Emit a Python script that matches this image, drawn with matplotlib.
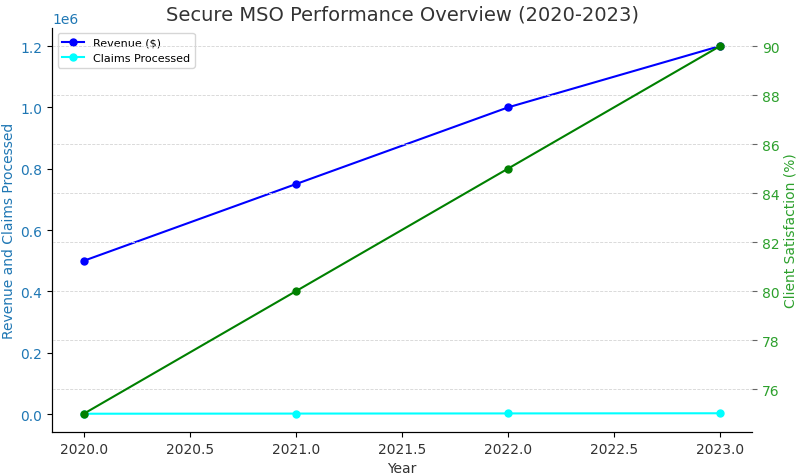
import matplotlib.pyplot as plt

years = [2020, 2021, 2022, 2023]
revenue = [500000, 750000, 1000000, 1200000]
claims = [1500, 2000, 2500, 3000]
satisfaction = [75, 80, 85, 90]

fig, ax1 = plt.subplots(figsize=(8, 4.77), dpi=100)

ax1.plot(years, revenue, color="blue", marker="o", markersize=5, label="Revenue ($)")
ax1.plot(years, claims, color="cyan", marker="o", markersize=5, label="Claims Processed")
ax1.set_xlabel("Year", color="#333333", fontsize=10)
ax1.set_ylabel("Revenue and Claims Processed", color="#1f77b4", fontsize=10, labelpad=3)
ax1.tick_params(axis="y", labelcolor="#1f77b4", labelsize=10)
ax1.tick_params(axis="x", labelcolor="#333333", labelsize=10)
ax1.yaxis.get_offset_text().set_color("#1f77b4")
ax1.legend(loc="upper left", fontsize=8)

ax2 = ax1.twinx()
ax2.plot(years, satisfaction, color="green", marker="o", markersize=5)
ax2.set_ylabel("Client Satisfaction (%)", color="#2ca02c", fontsize=10, labelpad=3)
ax2.tick_params(axis="y", labelcolor="#2ca02c", labelsize=10, color="#666666")
ax2.grid(True, linestyle="--", color="#d5d5d5", linewidth=0.6)

for ax in (ax1, ax2):
    ax.spines["top"].set_visible(False)
    ax.spines["right"].set_visible(False)

ax1.set_title("Secure MSO Performance Overview (2020-2023)", fontsize=14, color="#333333")

fig.subplots_adjust(left=0.065, right=0.94, top=0.94, bottom=0.092)
fig.savefig("out.png")
